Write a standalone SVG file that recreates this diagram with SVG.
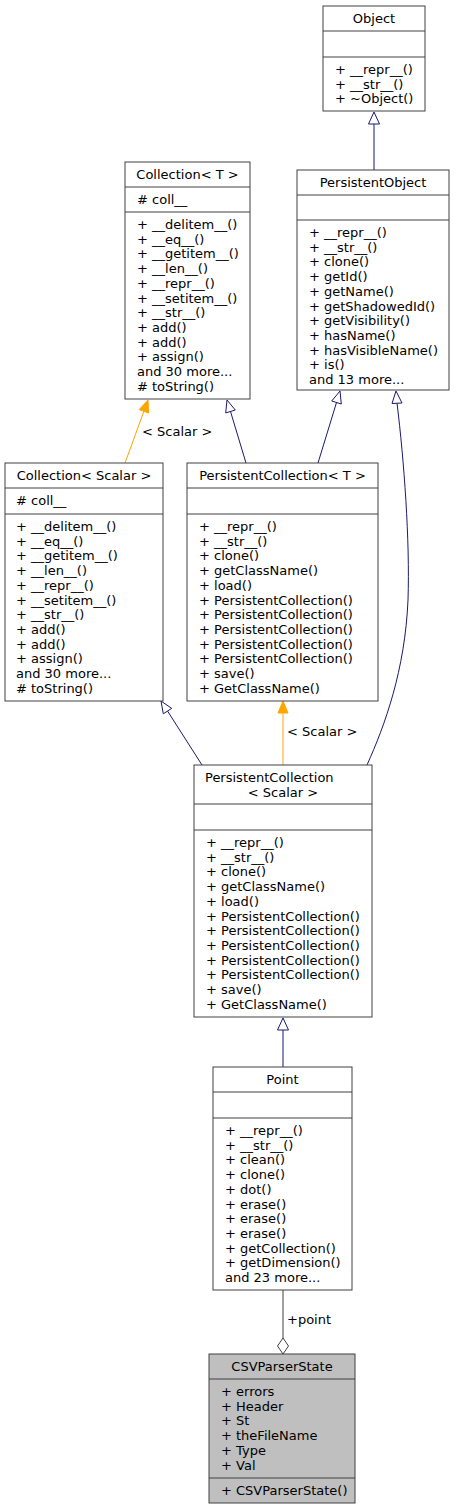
<svg xmlns="http://www.w3.org/2000/svg" width="457" height="1509" viewBox="0 0 457 1509">
<style>
.b{fill:#fff;stroke:#404040;stroke-width:1}
.g{fill:#bfbfbf;stroke:#404040;stroke-width:1}
.s{stroke:#404040;stroke-width:1;fill:none}
text{font-family:"DejaVu Sans","Liberation Sans",sans-serif;font-size:13px;fill:#000}
.c{text-anchor:middle}
.n{stroke:#191970;stroke-width:1;fill:none}
.nt{stroke:#191970;stroke-width:1;fill:#fff}
.o{stroke:#ffa500;stroke-width:1;fill:none}
.ot{stroke:#ffa500;stroke-width:1;fill:#ffa500}
.d{stroke:#404040;stroke-width:1;fill:none}
</style>
<rect width="457" height="1509" fill="#fff"/>
<g id="edges">
<line class="n" x1="374" y1="124" x2="374" y2="170"/>
<polygon class="nt" points="374,112 368.5,124 379.5,124"/>
<line class="o" x1="143.9" y1="411.3" x2="125" y2="463"/>
<polygon class="ot" points="148,400 148.6,413 139.2,409.6"/>
<text x="142" y="436">&lt; Scalar &gt;</text>
<line class="n" x1="230.5" y1="411.5" x2="246" y2="463"/>
<polygon class="nt" points="227,400 235.3,410 225.7,412.9"/>
<line class="n" x1="336.5" y1="402.5" x2="318" y2="463"/>
<polygon class="nt" points="340,391 341.3,404 331.7,401"/>
<path class="n" d="M397,403 C404,460 410,540 408,600 C405,670 385,725 367,765"/>
<polygon class="nt" points="396,391 402,403 392,403.5"/>
<line class="n" x1="167.5" y1="711" x2="202" y2="765"/>
<polygon class="nt" points="161,701 171.7,708.4 163.3,713.8"/>
<line class="o" x1="283" y1="713" x2="283" y2="765"/>
<polygon class="ot" points="283,701 278,713 288,713"/>
<text x="287" y="736">&lt; Scalar &gt;</text>
<line class="n" x1="283" y1="1030" x2="283" y2="1067"/>
<polygon class="nt" points="283,1018 277.5,1030 288.5,1030"/>
<line class="d" x1="283" y1="1290" x2="283" y2="1338"/>
<polygon class="b" points="283,1338 288.5,1346 283,1354 277.5,1346"/>
<text x="287" y="1324">+point</text>
</g>
<g id="Object">
<rect class="b" x="323" y="6" width="102" height="105"/>
<line class="s" x1="323" y1="31" x2="425" y2="31"/>
<line class="s" x1="323" y1="57" x2="425" y2="57"/>
<text class="c" x="374" y="23">Object</text>
<text x="335" y="74">+ __repr__()</text>
<text x="335" y="88.7">+ __str__()</text>
<text x="335" y="103.4">+ ~Object()</text>
</g>
<g id="PersistentObject">
<rect class="b" x="297" y="170" width="152" height="220"/>
<line class="s" x1="297" y1="195" x2="449" y2="195"/>
<line class="s" x1="297" y1="220" x2="449" y2="220"/>
<text class="c" x="373" y="187">PersistentObject</text>
<text x="309" y="237">+ __repr__()</text>
<text x="309" y="251.7">+ __str__()</text>
<text x="309" y="266.4">+ clone()</text>
<text x="309" y="281.1">+ getId()</text>
<text x="309" y="295.8">+ getName()</text>
<text x="309" y="310.5">+ getShadowedId()</text>
<text x="309" y="325.2">+ getVisibility()</text>
<text x="309" y="339.9">+ hasName()</text>
<text x="309" y="354.6">+ hasVisibleName()</text>
<text x="309" y="369.3">+ is()</text>
<text x="309" y="384">and 13 more...</text>
</g>
<g id="CollectionT">
<rect class="b" x="125" y="162" width="125" height="237"/>
<line class="s" x1="125" y1="187" x2="250" y2="187"/>
<line class="s" x1="125" y1="212" x2="250" y2="212"/>
<text class="c" x="187.5" y="179">Collection&lt; T &gt;</text>
<text x="137" y="204">#&#160;coll__</text>
<text x="137" y="229">+ __delitem__()</text>
<text x="137" y="243.7">+ __eq__()</text>
<text x="137" y="258.4">+ __getitem__()</text>
<text x="137" y="273.1">+ __len__()</text>
<text x="137" y="287.8">+ __repr__()</text>
<text x="137" y="302.5">+ __setitem__()</text>
<text x="137" y="317.2">+ __str__()</text>
<text x="137" y="331.9">+ add()</text>
<text x="137" y="346.6">+ add()</text>
<text x="137" y="361.3">+ assign()</text>
<text x="137" y="376">and 30 more...</text>
<text x="137" y="390.7"># toString()</text>
</g>
<g id="CollectionScalar">
<rect class="b" x="5" y="463" width="158" height="238"/>
<line class="s" x1="5" y1="488" x2="163" y2="488"/>
<line class="s" x1="5" y1="514" x2="163" y2="514"/>
<text class="c" x="84" y="480">Collection&lt; Scalar &gt;</text>
<text x="16" y="505"># coll__</text>
<text x="16" y="531">+ __delitem__()</text>
<text x="16" y="545.7">+ __eq__()</text>
<text x="16" y="560.4">+ __getitem__()</text>
<text x="16" y="575.1">+ __len__()</text>
<text x="16" y="589.8">+ __repr__()</text>
<text x="16" y="604.5">+ __setitem__()</text>
<text x="16" y="619.2">+ __str__()</text>
<text x="16" y="633.9">+ add()</text>
<text x="16" y="648.6">+ add()</text>
<text x="16" y="663.3">+ assign()</text>
<text x="16" y="678">and 30 more...</text>
<text x="16" y="692.7"># toString()</text>
</g>
<g id="PersistentCollectionT">
<rect class="b" x="187" y="463" width="191" height="238"/>
<line class="s" x1="187" y1="488" x2="378" y2="488"/>
<line class="s" x1="187" y1="514" x2="378" y2="514"/>
<text class="c" x="282.5" y="480">PersistentCollection&lt; T &gt;</text>
<text x="199" y="531">+ __repr__()</text>
<text x="199" y="545.7">+ __str__()</text>
<text x="199" y="560.4">+ clone()</text>
<text x="199" y="575.1">+ getClassName()</text>
<text x="199" y="589.8">+ load()</text>
<text x="199" y="604.5">+ PersistentCollection()</text>
<text x="199" y="619.2">+ PersistentCollection()</text>
<text x="199" y="633.9">+ PersistentCollection()</text>
<text x="199" y="648.6">+ PersistentCollection()</text>
<text x="199" y="663.3">+ PersistentCollection()</text>
<text x="199" y="678">+ save()</text>
<text x="199" y="692.7">+ GetClassName()</text>
</g>
<g id="PersistentCollectionScalar">
<rect class="b" x="194" y="765" width="178" height="252"/>
<line class="s" x1="194" y1="804" x2="372" y2="804"/>
<line class="s" x1="194" y1="830" x2="372" y2="830"/>
<text x="205" y="782">PersistentCollection</text>
<text class="c" x="283" y="796.7">&lt; Scalar &gt;</text>
<text x="206" y="847">+ __repr__()</text>
<text x="206" y="861.7">+ __str__()</text>
<text x="206" y="876.4">+ clone()</text>
<text x="206" y="891.1">+ getClassName()</text>
<text x="206" y="905.8">+ load()</text>
<text x="206" y="920.5">+ PersistentCollection()</text>
<text x="206" y="935.2">+ PersistentCollection()</text>
<text x="206" y="949.9">+ PersistentCollection()</text>
<text x="206" y="964.6">+ PersistentCollection()</text>
<text x="206" y="979.3">+ PersistentCollection()</text>
<text x="206" y="994">+ save()</text>
<text x="206" y="1008.7">+ GetClassName()</text>
</g>
<g id="Point">
<rect class="b" x="213" y="1067" width="139" height="223"/>
<line class="s" x1="213" y1="1092" x2="352" y2="1092"/>
<line class="s" x1="213" y1="1118" x2="352" y2="1118"/>
<text class="c" x="282.5" y="1084">Point</text>
<text x="225" y="1135">+ __repr__()</text>
<text x="225" y="1149.7">+ __str__()</text>
<text x="225" y="1164.4">+ clean()</text>
<text x="225" y="1179.1">+ clone()</text>
<text x="225" y="1193.8">+ dot()</text>
<text x="225" y="1208.5">+ erase()</text>
<text x="225" y="1223.2">+ erase()</text>
<text x="225" y="1237.9">+ erase()</text>
<text x="225" y="1252.6">+ getCollection()</text>
<text x="225" y="1267.3">+ getDimension()</text>
<text x="225" y="1282">and 23 more...</text>
</g>
<g id="CSVParserState">
<rect class="g" x="209" y="1354" width="146" height="149"/>
<line class="s" x1="209" y1="1379" x2="355" y2="1379"/>
<line class="s" x1="209" y1="1478" x2="355" y2="1478"/>
<text class="c" x="282" y="1371">CSVParserState</text>
<text x="221" y="1396">+ errors</text>
<text x="221" y="1410.7">+ Header</text>
<text x="221" y="1425.4">+ St</text>
<text x="221" y="1440.1">+ theFileName</text>
<text x="221" y="1454.8">+ Type</text>
<text x="221" y="1469.5">+ Val</text>
<text x="221" y="1495">+ CSVParserState()</text>
</g>
</svg>
